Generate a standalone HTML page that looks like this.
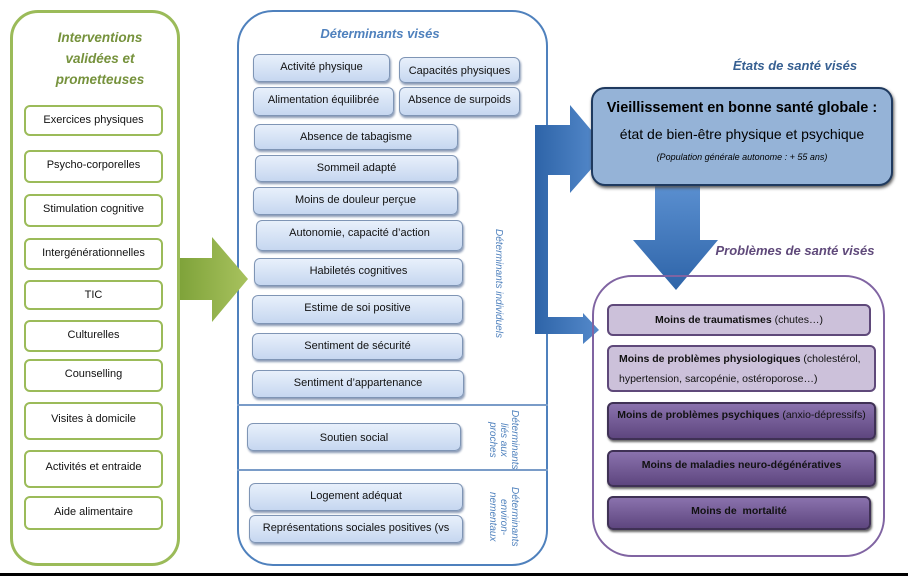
<!DOCTYPE html>
<html><head><meta charset="utf-8"><style>
body{margin:0;width:908px;height:576px;background:#fff;position:relative;overflow:hidden;font-family:"Liberation Sans",sans-serif;}
.a{position:absolute;box-sizing:border-box;}
.g{border:2px solid #9bbb59;border-radius:6px;background:#fff;font-size:11px;color:#111;text-align:center;line-height:26px;}
.b{border:1px solid #7f95b5;border-radius:6px;background:linear-gradient(#e8f0fb,#c6d7f0);box-shadow:1px 2px 2px #8a9ab5;font-size:11px;color:#111;text-align:center;line-height:24px;}
.p{border:2px solid #5f497a;border-radius:6px;font-size:10.5px;font-weight:bold;color:#111;text-align:center;line-height:24px;}
.lp{background:#ccc1da;}
.dp{background:linear-gradient(#8a72ad,#5e467f);border-color:#3f3155;box-shadow:1px 2px 2px #666;}
.t{font-style:italic;font-weight:bold;}
.v{position:absolute;writing-mode:vertical-rl;font-style:italic;font-size:10px;color:#4f81bd;line-height:11px;text-align:center;}
</style></head><body>
<!-- left panel -->
<div class="a" style="left:10px;top:10px;width:170px;height:556px;border:3px solid #9bbb59;border-radius:28px;"></div>
<div class="a t" style="left:40px;top:27px;width:120px;text-align:center;font-size:13.5px;line-height:21px;color:#76923c;">Interventions validées et prometteuses</div>
<div class="a g" style="left:24px;top:105px;width:139px;height:31px;">Exercices physiques</div>
<div class="a g" style="left:24px;top:150px;width:139px;height:33px;">Psycho-corporelles</div>
<div class="a g" style="left:24px;top:194px;width:139px;height:33px;">Stimulation cognitive</div>
<div class="a g" style="left:24px;top:238px;width:139px;height:32px;">Intergénérationnelles</div>
<div class="a g" style="left:24px;top:280px;width:139px;height:30px;">TIC</div>
<div class="a g" style="left:24px;top:320px;width:139px;height:32px;">Culturelles</div>
<div class="a g" style="left:24px;top:359px;width:139px;height:33px;">Counselling</div>
<div class="a g" style="left:24px;top:402px;width:139px;height:38px;line-height:30px;">Visites à domicile</div>
<div class="a g" style="left:24px;top:450px;width:139px;height:38px;line-height:30px;">Activités et entraide</div>
<div class="a g" style="left:24px;top:496px;width:139px;height:34px;line-height:28px;">Aide alimentaire</div>
<!-- middle panel -->
<div class="a" style="left:237px;top:10px;width:311px;height:556px;border:2px solid #4f81bd;border-radius:36px;"></div>
<div class="a" style="left:237px;top:404px;width:311px;height:2px;background:#7a9cc8;"></div>
<div class="a" style="left:237px;top:469px;width:311px;height:2px;background:#7a9cc8;"></div>
<div class="a t" style="left:300px;top:26px;width:160px;text-align:center;font-size:13px;color:#4f81bd;">Déterminants visés</div>
<div class="a b" style="left:253px;top:54px;width:137px;height:28px;">Activité physique</div>
<div class="a b" style="left:399px;top:57px;width:121px;height:26px;line-height:26px;">Capacités physiques</div>
<div class="a b" style="left:253px;top:87px;width:141px;height:29px;">Alimentation équilibrée</div>
<div class="a b" style="left:399px;top:87px;width:121px;height:29px;">Absence de surpoids</div>
<div class="a b" style="left:254px;top:124px;width:204px;height:26px;">Absence de tabagisme</div>
<div class="a b" style="left:255px;top:155px;width:203px;height:27px;">Sommeil adapté</div>
<div class="a b" style="left:253px;top:187px;width:205px;height:28px;">Moins de douleur perçue</div>
<div class="a b" style="left:256px;top:220px;width:207px;height:31px;">Autonomie, capacité d’action</div>
<div class="a b" style="left:254px;top:258px;width:209px;height:28px;">Habiletés cognitives</div>
<div class="a b" style="left:252px;top:295px;width:211px;height:29px;">Estime de soi positive</div>
<div class="a b" style="left:252px;top:333px;width:211px;height:27px;">Sentiment de sécurité</div>
<div class="a b" style="left:252px;top:370px;width:212px;height:28px;">Sentiment d’appartenance</div>
<div class="a b" style="left:247px;top:423px;width:214px;height:28px;line-height:28px;">Soutien social</div>
<div class="a b" style="left:249px;top:483px;width:214px;height:28px;">Logement adéquat</div>
<div class="a b" style="left:249px;top:515px;width:214px;height:28px;">Représentations sociales positives (vs</div>
<div class="v" style="left:490px;top:228px;width:14px;height:110px;">Déterminants individuels</div>
<div class="v" style="left:484px;top:410px;width:36px;height:60px;">Déterminants liés aux proches</div>
<div class="v" style="left:484px;top:486px;width:36px;height:62px;">Déterminants environ-nementaux</div>
<!-- arrows -->
<svg class="a" style="left:0;top:0" width="908" height="576">
<defs>
<linearGradient id="gg" x1="0" y1="0" x2="1" y2="0"><stop offset="0" stop-color="#7fa33a"/><stop offset="1" stop-color="#a8c25e"/></linearGradient>
<linearGradient id="bb" x1="0" y1="0" x2="1" y2="0"><stop offset="0" stop-color="#2e64a8"/><stop offset="1" stop-color="#5a8fd0"/></linearGradient>
<linearGradient id="bd" x1="0" y1="0" x2="0" y2="1"><stop offset="0" stop-color="#5a8fd0"/><stop offset="1" stop-color="#2e64a8"/></linearGradient>
</defs>
<polygon points="180,258 212,258 212,237 248,279 212,322 212,300 180,300" fill="url(#gg)"/>
<polygon points="535,125 570,125 570,105 608,150 570,193 570,175 548,175 548,317 583,317 583,313 599,330 583,344 583,334 535,334" fill="url(#bb)"/>
<polygon points="655,186 700,186 700,240 718,240 676,290 633,240 655,240" fill="url(#bd)"/>
</svg>
<!-- right -->
<div class="a t" style="left:725px;top:58px;width:140px;text-align:center;font-size:13px;color:#376092;">États de santé visés</div>
<div class="a" style="left:591px;top:87px;width:302px;height:99px;background:#95b3d7;border:2px solid #1f3a5f;border-radius:14px;box-shadow:1px 2px 3px #555;text-align:center;color:#000;">
<div style="font-weight:bold;font-size:14.5px;margin-top:11px;">Vieillissement en bonne santé globale :</div>
<div style="font-size:14px;margin-top:10px;">état de bien-être physique et psychique</div>
<div style="font-style:italic;font-size:9px;margin-top:10px;">(Population générale autonome : + 55 ans)</div>
</div>
<div class="a t" style="left:710px;top:243px;width:170px;text-align:center;font-size:13px;color:#5f497a;">Problèmes de santé visés</div>
<div class="a" style="left:592px;top:275px;width:293px;height:282px;border:2px solid #8064a2;border-radius:40px;"></div>
<div class="a p lp" style="left:607px;top:304px;width:264px;height:32px;line-height:28px;"><b>Moins de traumatismes</b> <span style="font-weight:normal">(chutes…)</span></div>
<div class="a p lp" style="left:607px;top:345px;width:269px;height:47px;text-align:left;padding-left:10px;line-height:20px;padding-top:2px;">Moins de problèmes physiologiques <span style="font-weight:normal">(cholestérol, hypertension, sarcopénie, ostéroporose…)</span></div>
<div class="a p dp" style="left:607px;top:402px;width:269px;height:38px;line-height:22px;">Moins de problèmes psychiques <span style="font-weight:normal">(anxio-dépressifs)</span></div>
<div class="a p dp" style="left:607px;top:450px;width:269px;height:37px;line-height:26px;">Moins de maladies neuro-dégénératives</div>
<div class="a p dp" style="left:607px;top:496px;width:264px;height:34px;line-height:26px;">Moins de &nbsp;mortalité</div>
<div class="a" style="left:0;top:573px;width:908px;height:3px;background:#000;"></div>
</body></html>
